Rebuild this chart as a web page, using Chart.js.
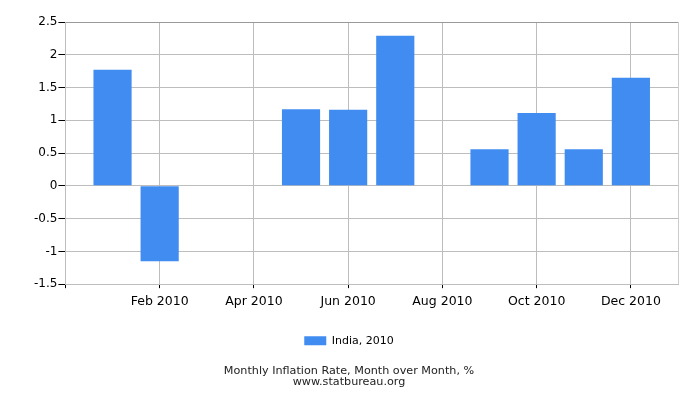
<!DOCTYPE html>
<html>
<head>
<meta charset="utf-8">
<script src="https://cdn.jsdelivr.net/npm/chart.js@4/dist/chart.umd.min.js"></script>
<style>
  html, body { margin: 0; padding: 0; background: #fff; }
  #wrap { width: 700px; height: 400px; }
</style>
</head>
<body>
<div id="wrap"><canvas id="chart"></canvas></div>
<script>
// ── data ─────────────────────────────────────────────────────────────
const months = ['Jan 2010', 'Feb 2010', 'Mar 2010', 'Apr 2010', 'May 2010', 'Jun 2010',
                'Jul 2010', 'Aug 2010', 'Sep 2010', 'Oct 2010', 'Nov 2010', 'Dec 2010'];
const inflation = [1.77, -1.15, 0, 0, 1.17, 1.16, 2.29, 0, 0.56, 1.11, 0.56, 1.65];
const xTickMonths = [0, 2, 4, 6, 8, 10, 12, 13];   // month positions that get a grid line
const yTicks = [-1.5, -1, -0.5, 0, 0.5, 1, 1.5, 2, 2.5];
const seriesLabel = 'India, 2010';
const titleLines = ['Monthly Inflation Rate, Month over Month, %', 'www.statbureau.org'];

const FONT = 'DejaVu Sans';
const BLUE = '#418cf0';

new Chart(document.getElementById('chart'), {
  type: 'bar',
  data: {
    datasets: [{
      label: seriesLabel,
      data: months.map((m, i) => ({ x: i + 1, y: inflation[i] })),
      backgroundColor: BLUE,
      borderWidth: 0,
      barPercentage: 0.81,
      categoryPercentage: 1
    }]
  },
  options: {
    responsive: true, maintainAspectRatio: false, animation: false,
    layout: { padding: { left: 20, right: 22, top: 22, bottom: 13 } },
    plugins: {
      tooltip: { enabled: false },
      legend: {
        position: 'bottom',
        labels: { color: '#000', font: { family: FONT, size: 11 }, boxWidth: 22, boxHeight: 9, padding: 20 }
      },
      title: {
        display: true, position: 'bottom', text: titleLines, color: '#222',
        font: { family: FONT, size: 11.2, weight: 'normal', lineHeight: 0.93 },
        padding: { top: 10, bottom: 0 }
      }
    },
    scales: {
      x: {
        type: 'linear', min: 0, max: 13, offset: false,
        afterBuildTicks: s => { s.ticks = xTickMonths.map(v => ({ value: v })); },
        ticks: {
          autoSkip: false, maxRotation: 0, color: '#000', padding: 6,
          font: { family: FONT, size: 12.5 },
          callback: v => (v > 0 && v <= 12 ? months[v - 1] : '')
        },
        grid: {
          offset: false,
          color: c => (c.tick && c.tick.value === 13 ? '#cccccc' : '#bdbdbd'),
          tickColor: c => (c.tick && c.tick.value === 13 ? 'rgba(0,0,0,0)' : '#000'),
          tickLength: 4
        },
        border: { color: '#bdbdbd' }
      },
      y: {
        min: -1.5, max: 2.5,
        afterBuildTicks: s => { s.ticks = yTicks.map(v => ({ value: v })); },
        afterFit: s => { s.width += 13; },
        ticks: { color: '#000', padding: 1, font: { family: FONT, size: 12 }, callback: v => String(v) },
        grid: {
          color: c => (c.tick && c.tick.value === 2.5 ? '#999999' : '#bdbdbd'),
          tickColor: '#000', tickLength: 7
        },
        border: { color: '#bdbdbd' }
      }
    }
  }
});
</script>
</body>
</html>
